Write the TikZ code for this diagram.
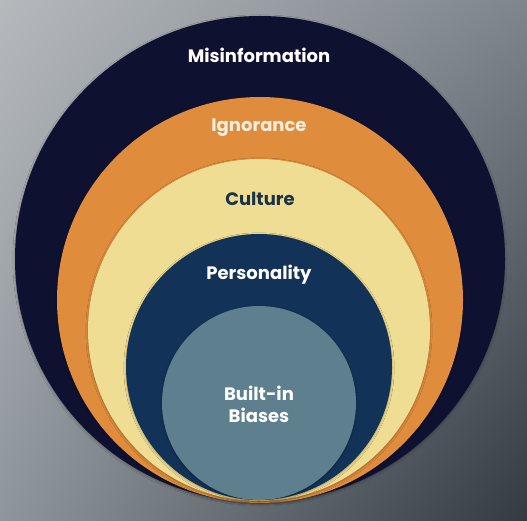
\documentclass[tikz,border=0pt]{standalone}
\usepackage{fontspec}
\setmainfont{Poppins}
\usetikzlibrary{shadows.blur,shadings}
\definecolor{bgUL}{HTML}{B5B9BC}
\definecolor{bgUR}{HTML}{7E858C}
\definecolor{bgLL}{HTML}{8E959B}
\definecolor{bgLR}{HTML}{323A42}
\definecolor{ringA}{HTML}{0F1131}
\definecolor{ringB}{HTML}{DF8C3C}
\definecolor{ringC}{HTML}{EEDD92}
\definecolor{ringD}{HTML}{123257}
\definecolor{ringE}{HTML}{5E7F8E}
\definecolor{txtCream}{HTML}{F7EEDF}
\definecolor{txtNavy}{HTML}{1C3246}
\begin{document}
\begin{tikzpicture}[x=1pt,y=-1pt,
  disc/.style={blur shadow={shadow xshift=0pt, shadow yshift=-1pt, shadow blur steps=5, shadow opacity=30}},
  lbl/.style={font=\bfseries\fontsize{18}{22}\selectfont, align=center, inner sep=0pt}]
\useasboundingbox (0,0) rectangle (527,521);
\shade[upper left=bgUL, upper right=bgUR, lower left=bgLL, lower right=bgLR] (0,0) rectangle (527,521);
\fill[ringA, disc] (260,259) ellipse [x radius=245, y radius=243];
\fill[ringB, disc] (260,300) circle [radius=203];
\fill[ringC, disc] (259,330) circle [radius=171];
\fill[ringD, disc] (259,367) circle [radius=133];
\fill[ringE, disc] (259,403) circle [radius=97];
\node[lbl, text=white] (mis) at (259,55) {Misinformation};
\node[lbl, text=txtCream] (ign) at (259,128) {Ignorance};
\node[lbl, text=txtNavy] (cul) at (260,199) {Culture};
\node[lbl, text=white] (per) at (259,275) {Personality};
\node[lbl, text=white] (bia) at (259,404) {Built-in\\Biases};
\end{tikzpicture}
\end{document}
